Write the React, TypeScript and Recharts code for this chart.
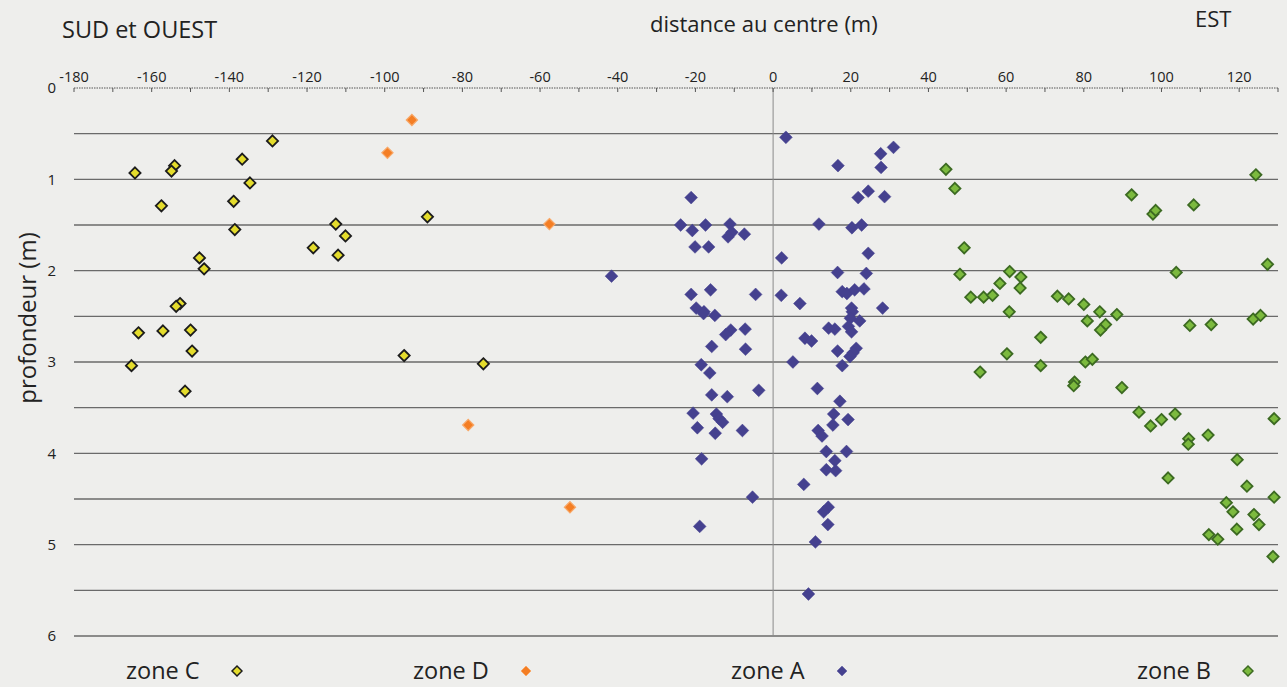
import React from 'react';
import { ScatterChart, Scatter, XAxis, YAxis, ReferenceLine } from 'recharts';

// ---- axis ticks ----
const xTicks = [-180, -170, -160, -150, -140, -130, -120, -110, -100, -90, -80, -70, -60, -50, -40, -30, -20, -10, 0, 10, 20, 30, 40, 50, 60, 70, 80, 90, 100, 110, 120, 130];
const yTicks = [0, 1, 2, 3, 4, 5, 6];
const gridDepths = [0.5, 1, 1.5, 2, 2.5, 3, 3.5, 4, 4.5, 5, 5.5, 6];

// ---- series: [distance au centre (m), profondeur (m)] ----
const zoneC: [number, number][] = [
  [-128.9, 0.58], [-136.7, 0.78], [-154.1, 0.85], [-154.9, 0.91], [-164.3, 0.93], [-134.7, 1.04],
  [-138.9, 1.24], [-157.5, 1.29], [-89.0, 1.41], [-112.6, 1.49], [-138.6, 1.55], [-110.1, 1.62],
  [-118.4, 1.75], [-112.0, 1.83], [-147.7, 1.86], [-146.5, 1.98], [-152.7, 2.36], [-153.7, 2.39],
  [-163.4, 2.68], [-157.1, 2.66], [-150.0, 2.65], [-149.6, 2.88], [-165.2, 3.04], [-95.0, 2.93],
  [-151.4, 3.32], [-74.6, 3.02],
];

const zoneD: [number, number][] = [
  [-93.0, 0.35], [-99.3, 0.71], [-57.6, 1.49], [-78.5, 3.69], [-52.3, 4.59],
];

const zoneA: [number, number][] = [
  [3.3, 0.54], [31.0, 0.65], [27.7, 0.72], [16.7, 0.85], [27.8, 0.87], [-21.1, 1.2], [24.5, 1.13],
  [21.9, 1.2], [28.7, 1.19], [-23.8, 1.5], [-20.8, 1.56], [-17.4, 1.5], [-11.1, 1.49], [-10.6, 1.58],
  [-11.6, 1.63], [-7.4, 1.6], [-20.1, 1.74], [-16.6, 1.74], [11.8, 1.49], [20.3, 1.53], [22.8, 1.5],
  [2.2, 1.86], [24.5, 1.81], [16.6, 2.02], [24.0, 2.03],
  [-21.1, 2.26], [-16.1, 2.21], [-4.5, 2.26], [2.1, 2.27], [6.9, 2.36], [17.8, 2.23], [19.0, 2.25],
  [21.0, 2.21], [23.4, 2.2], [28.2, 2.41], [20.2, 2.41], [20.4, 2.45], [-19.8, 2.41], [-17.8, 2.45],
  [-17.9, 2.47], [-15.0, 2.49], [19.9, 2.52], [22.3, 2.55], [19.4, 2.61], [14.3, 2.63], [15.9, 2.64],
  [20.2, 2.67], [-10.9, 2.65], [-12.2, 2.7], [-7.2, 2.64], [8.2, 2.74], [9.9, 2.77], [-15.8, 2.83],
  [-7.1, 2.86], [16.6, 2.88], [21.4, 2.85], [20.6, 2.9], [19.8, 2.94], [5.1, 3.0], [-18.5, 3.03],
  [-16.3, 3.12], [17.8, 3.04], [-3.7, 3.31], [11.4, 3.29], [-15.8, 3.36], [-11.8, 3.38], [17.2, 3.43],
  [-20.6, 3.56], [-14.6, 3.57], [-13.9, 3.62], [-13.0, 3.66], [15.6, 3.57], [19.3, 3.63], [-19.5, 3.72],
  [-14.9, 3.78], [-7.9, 3.75], [15.4, 3.69], [11.6, 3.75], [12.6, 3.81], [13.7, 3.98], [18.9, 3.98],
  [-18.4, 4.06], [15.9, 4.08],
  [13.7, 4.18], [16.1, 4.19], [7.9, 4.34], [-5.3, 4.48], [14.2, 4.59], [13.0, 4.64], [-18.9, 4.8],
  [14.1, 4.78], [10.9, 4.97], [9.1, 5.54],
  [-41.6, 2.06],
];

const zoneB: [number, number][] = [
  [44.5, 0.89], [46.8, 1.1], [92.3, 1.17], [97.8, 1.38], [98.5, 1.34], [108.3, 1.28], [124.3, 0.95],
  [49.2, 1.75], [48.1, 2.04], [60.9, 2.01], [63.8, 2.07], [58.4, 2.14], [63.6, 2.19], [50.9, 2.29],
  [54.2, 2.29], [56.5, 2.27], [60.8, 2.45], [73.2, 2.28], [76.1, 2.31], [80.0, 2.37], [84.1, 2.45],
  [88.5, 2.48], [80.9, 2.55], [85.6, 2.59], [84.3, 2.65], [68.9, 2.73], [103.8, 2.02], [107.3, 2.6],
  [112.8, 2.59], [123.6, 2.53], [125.5, 2.49], [127.3, 1.93], [60.2, 2.91], [68.9, 3.04], [53.3, 3.11],
  [80.4, 3.0], [82.2, 2.97], [77.6, 3.22], [77.4, 3.26], [89.8, 3.28], [94.2, 3.55], [97.2, 3.7],
  [100.0, 3.63], [103.5, 3.57], [107.0, 3.84], [106.9, 3.9], [112.0, 3.8], [129.0, 3.62],
  [119.5, 4.07], [101.7, 4.27], [122.0, 4.36], [129.0, 4.48], [116.7, 4.54], [118.4, 4.64], [123.8, 4.67],
  [125.1, 4.78], [119.4, 4.83], [112.2, 4.89], [114.5, 4.94], [128.7, 5.13],
];

const legendNames = ['zone C', 'zone D', 'zone A', 'zone B'];

const toPoints = (arr: [number, number][]) => arr.map(([x, y]) => ({ x, y }));

type DiamondStyle = { fill: string; stroke: string; sw: number; r: number };
const styleC: DiamondStyle = { fill: '#e4dc2c', stroke: '#1c1c1c', sw: 1.8, r: 5.6 };
const styleD: DiamondStyle = { fill: '#f47e24', stroke: '#f8a868', sw: 1.2, r: 5.6 };
const styleA: DiamondStyle = { fill: '#45418f', stroke: '#45418f', sw: 0.5, r: 6.4 };
const styleB: DiamondStyle = { fill: '#7cba3e', stroke: '#3c6a22', sw: 1.8, r: 5.6 };
const legendStyles = [styleC, styleD, styleA, styleB];

const diamondShape = (s: DiamondStyle) => (props: any) => {
  const { cx, cy } = props;
  if (cx == null || cy == null) return <g />;
  const r = s.r;
  return (
    <polygon
      points={`${cx},${cy - r} ${cx + r},${cy} ${cx},${cy + r} ${cx - r},${cy}`}
      fill={s.fill}
      stroke={s.stroke}
      strokeWidth={s.sw}
    />
  );
};

const FONT = "'Open Sans', 'Noto Sans', sans-serif";
const textColor = '#222';

const legendLefts = [126, 413, 731, 1137];

export default function App() {
  return (
    <div
      style={{
        position: 'absolute',
        left: 0,
        top: 0,
        width: 1287,
        height: 687,
        background: '#eeeeec',
        fontFamily: FONT,
        color: textColor,
        overflow: 'hidden',
      }}
    >
      <ScatterChart width={1287} height={687} margin={{ top: 48, right: 9, bottom: 51, left: 8 }}>
        <XAxis
          dataKey="x"
          type="number"
          orientation="top"
          domain={[-180, 130]}
          ticks={xTicks}
          interval={0}
          height={40}
          tickSize={-4}
          tickMargin={10}
          tickFormatter={(v: number) => (v % 20 === 0 ? String(v) : '')}
          tick={{ fontSize: 14.5, fill: '#222', fontFamily: FONT }}
          axisLine={{ stroke: '#555', strokeWidth: 1, strokeDasharray: '1.5 1' }}
          tickLine={{ stroke: '#555', strokeWidth: 1 }}
        />
        <YAxis
          dataKey="y"
          type="number"
          domain={[0, 6]}
          reversed
          ticks={yTicks}
          interval={0}
          width={66}
          axisLine={false}
          tickLine={false}
          tickSize={0}
          tickMargin={18}
          tick={{ fontSize: 15, fill: '#222', fontFamily: FONT }}
        />
        {gridDepths.map((d) => (
          <ReferenceLine key={d} y={d} stroke="#6a6a6a" strokeWidth={1.3} />
        ))}
        <ReferenceLine x={0} stroke="#8a8a8a" strokeWidth={1} />
        <Scatter name="zone C" data={toPoints(zoneC)} shape={diamondShape(styleC)} isAnimationActive={false} />
        <Scatter name="zone D" data={toPoints(zoneD)} shape={diamondShape(styleD)} isAnimationActive={false} />
        <Scatter name="zone A" data={toPoints(zoneA)} shape={diamondShape(styleA)} isAnimationActive={false} />
        <Scatter name="zone B" data={toPoints(zoneB)} shape={diamondShape(styleB)} isAnimationActive={false} />
      </ScatterChart>

      <div style={{ position: 'absolute', left: 62, top: 17, fontSize: 23.5, lineHeight: '24px', whiteSpace: 'nowrap' }}>SUD et OUEST</div>
      <div style={{ position: 'absolute', left: 650, top: 12, fontSize: 22, lineHeight: '22px', whiteSpace: 'nowrap' }}>distance au centre (m)</div>
      <div style={{ position: 'absolute', left: 1195, top: 7, fontSize: 22, lineHeight: '22px', whiteSpace: 'nowrap' }}>EST</div>
      <div
        style={{
          position: 'absolute',
          left: 27 - 110,
          top: 318 - 12,
          width: 220,
          textAlign: 'center',
          fontSize: 24,
          lineHeight: '24px',
          transform: 'rotate(-90deg)',
          whiteSpace: 'nowrap',
        }}
      >
        profondeur (m)
      </div>

      {legendNames.map((name, i) => {
        const s = legendStyles[i];
        return (
          <div
            key={name}
            style={{
              position: 'absolute',
              left: legendLefts[i],
              top: 658,
              display: 'flex',
              alignItems: 'center',
              fontSize: 23.5,
              lineHeight: '25px',
              whiteSpace: 'nowrap',
            }}
          >
            <span>{name}</span>
            <svg width={14} height={14} style={{ marginLeft: 30 }}>
              <polygon points="7,2 12,7 7,12 2,7" fill={s.fill} stroke={s.stroke} strokeWidth={s.sw * 0.8} />
            </svg>
          </div>
        );
      })}
    </div>
  );
}
